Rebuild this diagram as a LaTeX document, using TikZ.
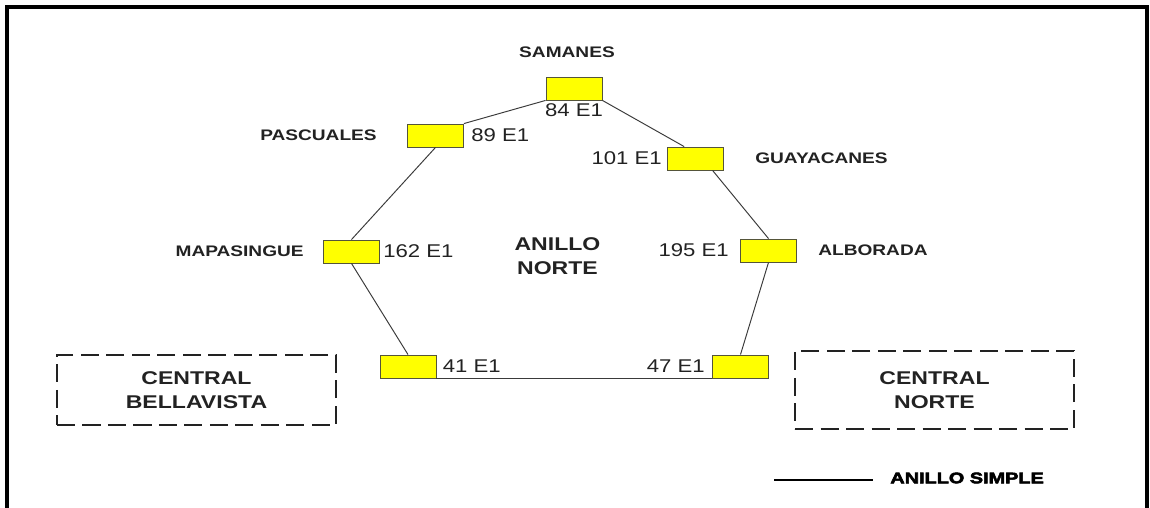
\documentclass[tikz,border=0pt]{standalone}
\usepackage{fontspec}
\setmainfont{Liberation Sans}
\newfontfamily\sitefont{Liberation Sans}[FakeStretch=1.25]
\newfontfamily\capfont{Liberation Sans}[FakeStretch=1.2]
\newfontfamily\legendfont{Liberation Sans}[FakeStretch=1.3,BoldFeatures={FakeBold=3.5}]
\usepackage{tikz}
\usetikzlibrary{positioning,calc}
\definecolor{boxfill}{HTML}{FFFF00}
\definecolor{boxline}{HTML}{55553A}
\definecolor{wire}{HTML}{3A3A3A}
\definecolor{ink}{HTML}{222222}

\begin{document}
\begin{tikzpicture}[
    node distance=2mm,
    site/.style={draw=boxline, line width=0.5pt, fill=boxfill, minimum width=1.12cm, minimum height=0.46cm, inner sep=0pt},
    sitename/.style={inner sep=0pt, text=ink, font=\sitefont\bfseries\fontsize{8.7}{10}\selectfont},
    capacity/.style={inner sep=0pt, text=ink, font=\capfont\fontsize{10.5}{12}\selectfont},
    central/.style={draw=ink, line width=1.2pt, dash pattern=on 0.36cm off 0.15cm, minimum width=5.58cm, align=center, inner sep=0pt, text=ink, font=\sitefont\bfseries\fontsize{10.5}{13.6}\selectfont},
    link/.style={draw=wire, line width=0.55pt}
]
    \useasboundingbox (0,0) rectangle (23,10.16);
    % frame, open at the bottom
    \draw[line width=2.3pt] (0.14,0) -- (0.14,10.02) -- (22.94,10.02) -- (22.94,0);

    % ring sites
    \node[site] (sam) at (11.48,8.39) {};
    \node[site] (pas) at (8.71,7.45) {};
    \node[site] (guay) at (13.91,6.99) {};
    \node[site] (alb) at (15.37,5.15) {};
    \node[site] (mapa) at (7.03,5.13) {};
    \node[site] (s41) at (8.16,2.83) {};
    \node[site] (s47) at (14.81,2.83) {};

    \node[sitename, above=0.38cm of sam, xshift=-0.14cm] (samN) {SAMANES};
    \node[sitename, left=0.6cm of pas] (pasN) {PASCUALES};
    \node[sitename, right=0.62cm of guay] (guayN) {GUAYACANES};
    \node[sitename, right=0.42cm of alb] (albN) {ALBORADA};
    \node[sitename, left=0.38cm of mapa] (mapaN) {MAPASINGUE};

    \node[capacity, below=0.06cm of sam] (samC) {84 E1};
    \node[capacity, right=0.14cm of pas] (pasC) {89 E1};
    \node[capacity, left=0.1cm of guay] (guayC) {101 E1};
    \node[capacity, left=0.22cm of alb] (albC) {195 E1};
    \node[capacity, right=0.06cm of mapa] (mapaC) {162 E1};
    \node[capacity, right=0.12cm of s41] (s41C) {41 E1};
    \node[capacity, left=0.14cm of s47] (s47C) {47 E1};

    \node[align=center, inner sep=0pt, text=ink, font=\sitefont\bfseries\fontsize{10.5}{13.6}\selectfont] (ring) at (11.15,5.03) {ANILLO\\NORTE};

    % centrals
    \node[central, minimum height=1.4cm] (cbv) at (3.93,2.36) {CENTRAL\\BELLAVISTA};
    \node[central, minimum height=1.56cm] (cno) at (18.69,2.36) {CENTRAL\\NORTE};

    % ring links
    \draw[link] (sam.south west) -- (pas.north east);
    \draw[link] (sam.south east) -- ($(guay.north west)!0.3!(guay.north east)$);
    \draw[link] (pas.south) -- (mapa.north);
    \draw[link] ($(guay.south west)!0.8!(guay.south east)$) -- (alb.north);
    \draw[link] (mapa.south) -- (s41.north);
    \draw[link] (alb.south) -- (s47.north);
    \draw[link] (s41.south east) -- (s47.south west);

    % legend
    \coordinate (legA) at (15.48,0.56);
    \coordinate (legB) at (17.46,0.56);
    \draw[line width=0.8pt] (legA) -- (legB);
    \node[anchor=west, inner sep=0pt, font=\legendfont\bfseries\fontsize{8.7}{10}\selectfont] (legT) at (17.8,0.6) {ANILLO SIMPLE};
\end{tikzpicture}
\end{document}
